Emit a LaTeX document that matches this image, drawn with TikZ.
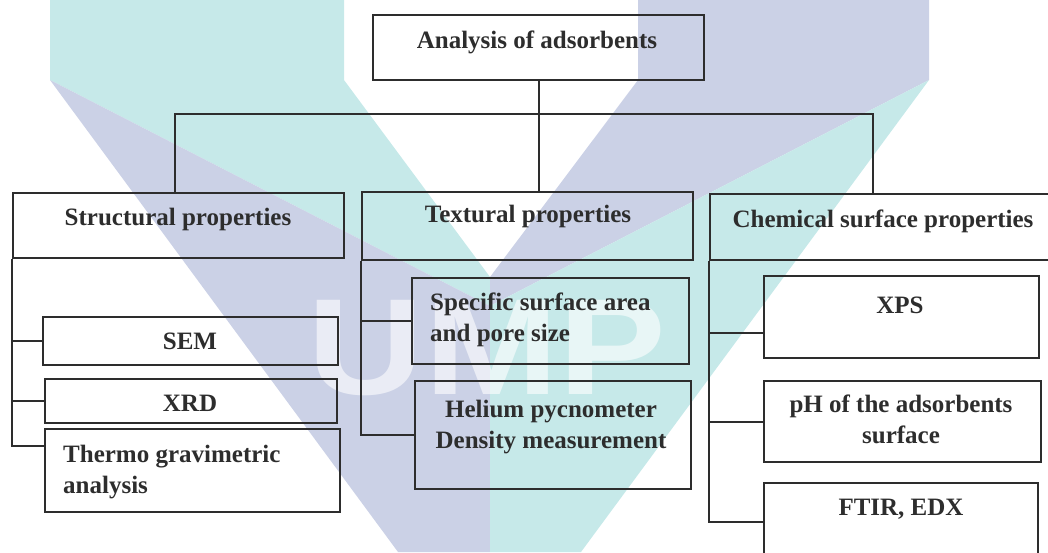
\documentclass[tikz,border=0pt]{standalone}
\usepackage{fontspec}
\setmainfont{Liberation Serif}
\newfontfamily\logofont{Liberation Sans}
\definecolor{wmcyan}{RGB}{198,233,233}
\definecolor{wmlav}{RGB}{203,209,230}
\definecolor{ink}{RGB}{45,45,45}
\tikzset{
	box/.style={draw=ink, line width=2pt, anchor=north west, inner sep=0pt},
	lbl/.style={font=\fontsize{25}{31}\selectfont\bfseries, text=ink, inner sep=0pt, anchor=base},
	link/.style={draw=ink, line width=2pt}
}
\begin{document}
\begin{tikzpicture}[x=1pt,y=-1pt]
	\useasboundingbox (0,0) rectangle (1048,552);
	\fill [color=wmcyan] (50,0) -- (344,0) -- (344,80) -- (490,277) -- (490,306) -- (50,80) -- cycle;
	\fill [color=wmlav] (638,0) -- (929,0) -- (929,80) -- (490,306) -- (490,277) -- (638,80) -- cycle;
	\fill [color=wmlav] (50,80) -- (490,306) -- (490,552) -- (398,552) -- cycle;
	\fill [color=wmcyan] (929,80) -- (490,306) -- (490,552) -- (581,552) -- cycle;
	\node [font=\logofont\bfseries\fontsize{137}{137}\selectfont, text=white, opacity=0.6, xscale=1.18, anchor=base] (logo) at (487,394) {UMP};

	\node [box, minimum width=331pt, minimum height=65pt] (top) at (372,14) {};
	\node [box, minimum width=331pt, minimum height=65pt] (strc) at (12,192) {};
	\node [box, minimum width=331pt, minimum height=68pt] (txtr) at (361,191) {};
	\node [box, minimum width=350pt, minimum height=66pt] (chem) at (709,193) {};
	\node [box, minimum width=295pt, minimum height=48pt] (sem) at (42,316) {};
	\node [box, minimum width=292pt, minimum height=44pt] (xrd) at (44,378) {};
	\node [box, minimum width=295pt, minimum height=83pt] (tga) at (44,428) {};
	\node [box, minimum width=277pt, minimum height=86pt] (spec) at (411,277) {};
	\node [box, minimum width=276pt, minimum height=108pt] (hel) at (414,380) {};
	\node [box, minimum width=275pt, minimum height=82pt] (xps) at (763,275) {};
	\node [box, minimum width=277pt, minimum height=81pt] (ph) at (763,380) {};
	\node [box, minimum width=274pt, minimum height=78pt] (ftir) at (763,482) {};

	\node [lbl] (top-t) at (537,48) {Analysis of adsorbents};
	\node [lbl] (strc-t) at (178,225) {Structural properties};
	\node [lbl] (txtr-t) at (528,222) {Textural properties};
	\node [lbl] (chem-t) at (883,227) {Chemical surface properties};
	\node [lbl] (sem-t) at (190,349) {SEM};
	\node [lbl] (xrd-t) at (190,411) {XRD};
	\node [lbl, anchor=base west, align=left] (tga-t) at (63,493) {Thermo gravimetric\\analysis};
	\node [lbl, anchor=base west, align=left] (spec-t) at (430,341) {Specific surface area\\and pore size};
	\node [lbl, align=center] (hel-t) at (551,448) {Helium pycnometer\\Density measurement};
	\node [lbl] (xps-t) at (900,313) {XPS};
	\node [lbl, align=center] (ph-t) at (901,443) {pH of the adsorbents\\surface};
	\node [lbl] (ftir-t) at (901,515) {FTIR, EDX};

	\coordinate (barL) at (175,114);
	\coordinate (barR) at (873,114);
	\draw [link] (top.south) -- (top.south |- txtr.north);
	\draw [link] (barL |- strc.north) -- (barL) -- (barR) -- (barR |- chem.north);
	\draw [link] (strc.south west) |- (sem.west);
	\draw [link] (strc.south west) |- (xrd.west);
	\draw [link] (strc.south west) |- ([yshift=-18pt]tga.north west);
	\draw [link] (txtr.south west) |- (spec.west);
	\draw [link] (txtr.south west) |- (hel.west);
	\draw [link] (chem.south west) |- ([yshift=-58pt]xps.north west);
	\draw [link] (chem.south west) |- (ph.west);
	\draw [link] (chem.south west) |- (ftir.west);
\end{tikzpicture}
\end{document}
